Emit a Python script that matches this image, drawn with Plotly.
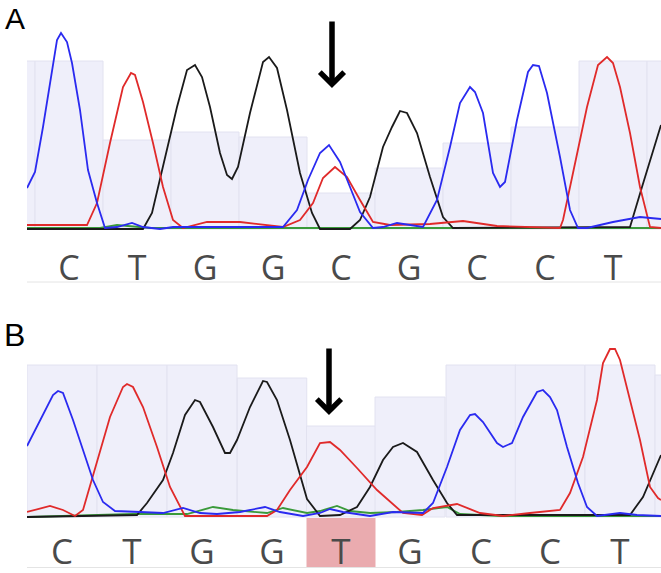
# coding=UTF-8

import plotly.graph_objs as go

W, H = 661, 573

# ---- panel A : reference trace ----
a_pos = [1, 69, 137, 205, 273, 341, 409, 477, 545, 613, 681]
a_qual = [168, 168, 89, 97, 92, 36, 61, 86, 102, 168, 168]
a_call = ["", "C", "T", "G", "G", "C", "G", "C", "C", "T", ""]

a_blue_x = [27, 35, 43, 57, 61, 67, 72, 80, 88, 97, 105, 117, 132, 143, 160, 173, 283, 297, 308, 320, 329, 340,
            350, 360, 373, 383, 397, 423, 437, 450, 460, 470, 475, 483, 493, 500, 505, 517, 528, 533, 539, 547,
            560, 570, 578, 587, 613, 640, 661]
a_blue_y = [41, 57, 102, 189, 196, 187, 166, 119, 59, 26, 1, 2, 6, 2, 0, 2, 2, 19, 49, 76, 84, 67,
            42, 17, 1, 2, 6, 2, 29, 82, 126, 142, 137, 116, 56, 42, 47, 109, 157, 164, 163, 136,
            72, 19, 1, 1, 7, 12, 10]
a_red_x = [27, 87, 97, 110, 123, 131, 135, 143, 153, 163, 173, 183, 207, 240, 283, 300, 313, 323, 335, 347,
           360, 373, 390, 430, 463, 497, 560, 563, 573, 587, 598, 607, 613, 620, 630, 640, 650, 661]
a_red_y = [4, 4, 26, 86, 142, 156, 154, 127, 86, 42, 9, 1, 7, 7, 2, 9, 26, 51, 62, 52,
           29, 7, 4, 5, 8, 3, 1, 9, 56, 122, 164, 172, 166, 142, 96, 42, 2, 1]
a_black_x = [27, 143, 152, 163, 177, 187, 195, 202, 210, 220, 227, 232, 238, 250, 263, 269, 277, 287, 300, 312,
             320, 350, 360, 370, 383, 392, 400, 407, 417, 430, 443, 453, 630, 642, 657, 661]
a_black_y = [0, 0, 16, 62, 122, 159, 164, 152, 122, 76, 54, 50, 62, 116, 167, 172, 161, 119, 56, 16,
             0, 0, 9, 32, 82, 102, 118, 116, 96, 52, 12, 1, 2, 42, 92, 104]
a_green_x = [27, 100, 117, 130, 150, 661]
a_green_y = [1, 1, 4, 3, 1, 1]

# ---- panel B : patient trace ----
b_pos = [62, 132, 202, 272, 341, 410, 481, 550, 620, 690]
b_qual = [152, 152, 152, 139, 91, 120, 152, 152, 152, 142]
b_call = ["C", "T", "G", "G", "T", "G", "C", "C", "T", ""]
b_mut = 4

b_blue_x = [27, 40, 53, 58, 63, 73, 83, 93, 103, 115, 140, 163, 183, 200, 217, 240, 265, 280, 303, 320, 330,
            343, 370, 393, 423, 433, 447, 460, 470, 475, 483, 497, 503, 512, 523, 537, 543, 550, 557, 567,
            578, 587, 597, 620, 637, 661]
b_blue_y = [71, 97, 122, 126, 124, 97, 67, 37, 15, 6, 5, 4, 9, 4, 3, 5, 10, 5, 1, 4, 8,
            5, 1, 5, 4, 14, 50, 87, 102, 103, 95, 74, 70, 74, 100, 125, 127, 120, 107, 70,
            34, 10, 1, 4, 2, 1]
b_red_x = [27, 50, 63, 75, 83, 97, 110, 123, 127, 133, 143, 157, 170, 185, 233, 267, 277, 290, 307, 320, 330,
           340, 357, 377, 403, 422, 433, 457, 480, 503, 530, 560, 570, 583, 597, 603, 610, 615, 620, 630,
           640, 650, 658, 661]
b_red_y = [5, 11, 7, 1, 7, 54, 100, 130, 133, 130, 110, 70, 30, 1, 1, 1, 7, 27, 50, 74, 75,
           67, 49, 27, 4, 2, 9, 13, 4, 1, 4, 7, 24, 60, 117, 154, 168, 168, 157, 117,
           77, 30, 19, 17]
b_black_x = [27, 137, 147, 163, 173, 185, 195, 200, 213, 225, 230, 237, 250, 263, 267, 277, 290, 307, 320,
             340, 357, 370, 383, 393, 403, 417, 433, 447, 457, 630, 643, 658, 661]
b_black_y = [0, 2, 14, 37, 64, 102, 117, 115, 90, 64, 64, 77, 110, 136, 135, 117, 77, 18, 1,
             2, 10, 30, 57, 70, 74, 65, 37, 14, 2, 2, 20, 54, 62]
b_green_x = [27, 133, 187, 213, 233, 267, 283, 307, 320, 337, 350, 370, 397, 423, 447, 460, 500, 661]
b_green_y = [0, 3, 3, 10, 7, 4, 9, 4, 6, 11, 6, 4, 5, 7, 10, 3, 1, 1]

# arrows (scan position, signal level at the tip)
a_arrow = (332, 141)
b_arrow = (329, 102)

COLORS = dict(G="#1a1a1a", A="#3a9a3a", T="#e02a2a", C="#2a2af0")


def edges(pos):
    mids = [(pos[i] + pos[i + 1]) / 2.0 for i in range(len(pos) - 1)]
    left = [2 * pos[0] - mids[0]] + mids
    right = mids + [2 * pos[-1] - mids[-1]]
    return left, right


def px(pix):
    return pix / float(W)


def py(pix):
    return 1 - pix / float(H)


def panel(xa, ya, pos, qual, tr):
    left, right = edges(pos)
    out = [go.Bar(x=pos, y=qual, width=[r - l for l, r in zip(left, right)], base=0,
                  marker=dict(color="#efeffa", line=dict(color="#e2e2f0", width=1)),
                  xaxis=xa, yaxis=ya, showlegend=False, hoverinfo="skip")]
    for base, (x, y) in tr:
        out.append(go.Scatter(x=x, y=y, mode="lines", line=dict(color=COLORS[base], width=1.8),
                              xaxis=xa, yaxis=ya, showlegend=False, hoverinfo="skip"))
    return out


data = panel("x", "y", a_pos, a_qual,
             [("A", (a_green_x, a_green_y)), ("G", (a_black_x, a_black_y)),
              ("T", (a_red_x, a_red_y)), ("C", (a_blue_x, a_blue_y))])
data += panel("x2", "y2", b_pos, b_qual,
              [("A", (b_green_x, b_green_y)), ("G", (b_black_x, b_black_y)),
               ("T", (b_red_x, b_red_y)), ("C", (b_blue_x, b_blue_y))])

xdom = [px(27), 1]


def xaxis(pos, call, anchor, size, standoff):
    return dict(domain=xdom, range=[27, 661], anchor=anchor, showgrid=False, zeroline=False,
                showline=False, ticks="", tickvals=[p for p, c in zip(pos, call) if c],
                ticktext=[c for c in call if c],
                tickfont=dict(family="Open Sans", size=size, color="#4a4a4a"),
                ticklabelstandoff=standoff, automargin=False, fixedrange=True)


def yaxis(top, bottom, rng, anchor):
    return dict(domain=[py(bottom), py(top)], range=rng, anchor=anchor, visible=False,
                showgrid=False, zeroline=False, automargin=False, fixedrange=True)


bl, br = edges(b_pos)
shapes = [
    dict(type="rect", xref="x2", yref="paper", x0=bl[b_mut], x1=br[b_mut], y0=py(567), y1=py(518),
         fillcolor="#eaabaf", line=dict(width=0), layer="below"),
    dict(type="line", xref="paper", yref="paper", x0=xdom[0], x1=1, y0=py(282), y1=py(282),
         line=dict(color="#e4e4e4", width=1)),
    dict(type="line", xref="paper", yref="paper", x0=xdom[0], x1=1, y0=py(567.5), y1=py(567.5),
         line=dict(color="#e4e4e4", width=1)),
]

arrow = dict(text="", showarrow=True, arrowhead=4, arrowwidth=5.5, arrowsize=0.85,
             arrowcolor="black", ax=0, ay=-68, standoff=0)
annotations = [
    dict(arrow, x=a_arrow[0], y=a_arrow[1], xref="x", yref="y"),
    dict(arrow, x=b_arrow[0], y=b_arrow[1], xref="x2", yref="y2"),
    dict(text="A", x=px(15), y=py(18), xref="paper", yref="paper", showarrow=False,
         xanchor="center", yanchor="middle",
         font=dict(family="Liberation Sans", size=30, color="black")),
    dict(text="B", x=px(14), y=py(335), xref="paper", yref="paper", showarrow=False,
         xanchor="center", yanchor="middle",
         font=dict(family="Liberation Sans", size=32, color="black")),
]

layout = go.Layout(
    width=W, height=H, margin=dict(l=0, r=0, t=0, b=0, autoexpand=False),
    paper_bgcolor="white", plot_bgcolor="white",
    barmode="overlay", hovermode=False,
    xaxis=xaxis(a_pos, a_call, "y", 34, 13),
    yaxis=yaxis(25, 232, [-3, 204], "x"),
    xaxis2=xaxis(b_pos, b_call, "y2", 35, 8),
    yaxis2=yaxis(340, 520, [-3, 177], "x2"),
    shapes=shapes, annotations=annotations,
)

fig = go.Figure(data=data, layout=layout)
fig.write_html("out.html", config=dict(displayModeBar=False, staticPlot=True),
               post_script="document.body.style.margin='0';document.body.style.overflow='hidden';")
